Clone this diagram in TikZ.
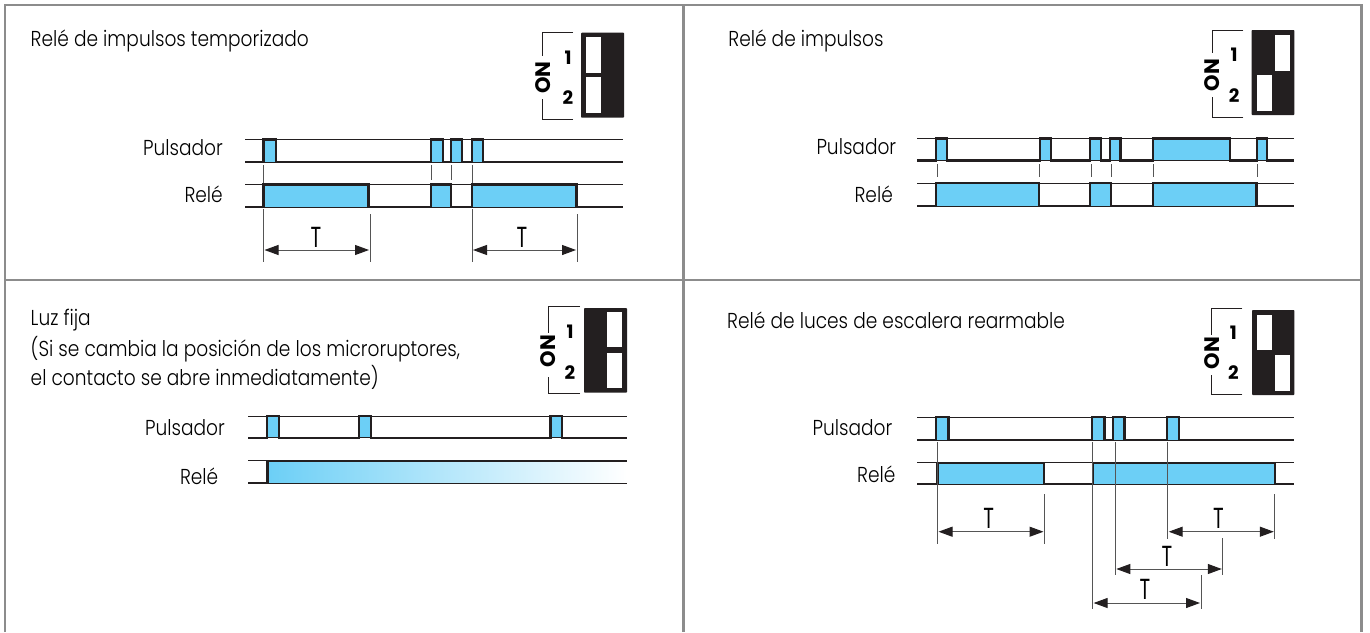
\documentclass[tikz,border=0pt]{standalone}
\usepackage{fontspec}
\setmainfont{Poppins}[UprightFont=* Light,FakeStretch=0.86]
\newfontfamily\boldf{Poppins}[UprightFont=* Bold]
\newfontfamily\bigt{Poppins}[FakeStretch=0.68]
\usetikzlibrary{arrows.meta}
\definecolor{inkc}{HTML}{231F20}
\definecolor{bluec}{HTML}{6CCFF6}
\definecolor{framec}{HTML}{8C8C8C}
\definecolor{dimc}{HTML}{555555}
\tikzset{
  x=1pt,y=-1pt,
  framel/.style={draw=framec,line width=2.8pt},
  thinl/.style={draw=inkc,line width=0.9pt},
  thickl/.style={draw=inkc,line width=2.2pt,line join=miter},
  tickl/.style={draw=dimc,line width=0.8pt},
  brk/.style={draw=inkc,line width=1pt},
  dimarrow/.style={draw=dimc,line width=1pt,{Triangle[length=14pt,width=10pt,fill=inkc,color=inkc]}-{Triangle[length=14pt,width=10pt,fill=inkc,color=inkc]}},
  ttl/.style={anchor=west,inner sep=0pt,font=\fontsize{21.6}{22}\selectfont},
  sgl/.style={anchor=east,inner sep=0pt,font=\fontsize{21.6}{22}\selectfont},
  tlab/.style={inner sep=0pt,font=\bigt\fontsize{29}{29}\selectfont},
  onl/.style={rotate=90,inner sep=0pt,font=\boldf\fontsize{21}{22}\selectfont},
  numl/.style={inner sep=0pt,font=\boldf\fontsize{18.5}{19}\selectfont},
}
% #1 x0, #2 x1, #3 ytop, #4 ybot, #5 list a/b
\newcommand{\tsignal}[5]{%
  \foreach \a/\b in {#5}{\fill[bluec] (\a,#3) rectangle (\b,#4);}
  \draw[thinl] (#1,#3) -- (#2,#3);
  \draw[thinl] (#1,#4) -- (#2,#4);
  \draw[thickl] (#1,#4) foreach \a/\b in {#5} { -- (\a,#4) -- (\a,#3) -- (\b,#3) -- (\b,#4) } -- (#2,#4);
}
% #1 prefix, #2 bracket x, #3 bracket right, #4 ytop, #5 ygap1, #6 ygap2, #7 ybot, #8 ON y
\newcommand{\dipbracket}[8]{%
  \draw[brk] (#3,#4) -- (#2,#4) -- (#2,#5);
  \draw[brk] (#3,#7) -- (#2,#7) -- (#2,#6);
  \node[onl] (#1on) at (#2,#8) {ON};
}
\begin{document}
\begin{tikzpicture}
\useasboundingbox (0,0) rectangle (1370,632);
\fill[white] (0,0) rectangle (1370,632);
% frame
\draw[framel] (5,632) -- (5,5) -- (1361.5,5) -- (1361.5,632);
\draw[framel] (5,280) -- (1361.5,280);
\draw[framel] (683.5,5) -- (683.5,632);

% ---- panel 1
\node[ttl] (t1) at (30.5,41) {Relé de impulsos temporizado};
\fill[inkc,rounded corners=0.8pt] (581,32.7) rectangle (624,117.7);
\fill[white] (586,37) rectangle (600.7,72.7);
\fill[white] (586,77.3) rectangle (600.7,113.3);
\dipbracket{a}{542.7}{573}{32.7}{56}{99}{119}{77.5}
\node[numl] (a1) at (568,57.7) {1};
\node[numl] (a2) at (568,98) {2};
\node[sgl] (ap) at (223,148) {Pulsador};
\node[sgl] (ar) at (223,194) {Relé};
\tsignal{245}{623}{139.5}{162}{263.5/276,431/443,451/462,472/483}
\tsignal{245}{623}{184.5}{207}{263.5/368.5,431/451,472/576.5}
\foreach \x in {263.5,472}{\draw[tickl] (\x,165) -- (\x,183);}
\foreach \x in {431,451}{\draw[tickl] (\x,165) -- (\x,180);}
\foreach \x in {263.5,472}{\draw[tickl] (\x,209) -- (\x,262);}
\foreach \x in {370,577}{\draw[tickl] (\x,214) -- (\x,262);}
\draw[dimarrow] (264.5,250) -- (369,250);
\draw[dimarrow] (473,250) -- (576,250);
\node[tlab] (at1) at (316,237.5) {T};
\node[tlab] (at2) at (522,237.5) {T};

% ---- panel 2
\node[ttl] (t2) at (728.2,41) {Relé de impulsos};
\fill[inkc,rounded corners=0.8pt] (1251.6,30) rectangle (1294.4,115);
\fill[white] (1274.8,35) rectangle (1289.6,71);
\fill[white] (1257.3,75) rectangle (1271.7,111);
\dipbracket{b}{1212.3}{1243.3}{30}{53}{97}{117}{75}
\node[numl] (b1) at (1234.2,55) {1};
\node[numl] (b2) at (1234.2,96) {2};
\node[sgl] (bp) at (896.4,147) {Pulsador};
\node[sgl] (br) at (893,194) {Relé};
\tsignal{917.4}{1294.4}{138.5}{160.5}{935.8/947.1,1039.7/1051.1,1090/1100.9,1110/1120.5,1152.9/1230.2,1256.9/1267.3}
\tsignal{917.4}{1294.4}{183.3}{206}{936.2/1038.9,1090/1111,1152.9/1256.4}
\foreach \x in {937,1038.9,1091.7,1111.4,1152.9,1256.9}{\draw[tickl] (\x,164) -- (\x,177);}

% ---- panel 3
\node[ttl] (t3a) at (30.5,320) {Luz fija};
\node[ttl] (t3b) at (30.5,349) {(Si se cambia la posición de los microruptores,};
\node[ttl] (t3c) at (30.5,377) {el contacto se abre inmediatamente)};
\fill[inkc,rounded corners=0.8pt] (584,308) rectangle (627,392.7);
\fill[white] (607,312) rectangle (622,347);
\fill[white] (607,352.7) rectangle (622,388);
\dipbracket{c}{548}{580}{306.7}{333}{377}{393}{351}
\node[numl] (c1) at (570,332) {1};
\node[numl] (c2) at (570,373) {2};
\node[sgl] (cp) at (225,428) {Pulsador};
\node[sgl] (cr) at (218.5,476) {Relé};
\tsignal{248}{627}{416}{437.7}{267/279,358.7/371,550.5/562}
\shade[left color=bluec,right color=white] (267.4,460.7) rectangle (627,483.3);
\draw[thinl] (248,460.7) -- (627,460.7);
\draw[thinl] (248,483.3) -- (627,483.3);
\draw[thickl] (248,483.3) -- (267.4,483.3) -- (267.4,460.7) -- (627,460.7);

% ---- panel 4
\node[ttl] (t4) at (727,320) {Relé de luces de escalera rearmable};
\fill[inkc,rounded corners=0.8pt] (1252,310) rectangle (1294.4,395);
\fill[white] (1257.3,314.7) rectangle (1271.7,350);
\fill[white] (1274.8,355) rectangle (1289.6,390.7);
\dipbracket{d}{1211.9}{1242.4}{308}{335}{375}{394.7}{353}
\node[numl] (d1) at (1233.3,332.7) {1};
\node[numl] (d2) at (1233.3,373) {2};
\node[sgl] (dp) at (892.5,428) {Pulsador};
\node[sgl] (dr) at (895.6,474) {Relé};
\tsignal{917.4}{1294.4}{417.3}{440}{936.2/948.4,1092.2/1104.4,1113.1/1124.5,1167.3/1178.7}
\tsignal{917.4}{1294.4}{462.7}{484.3}{937.5/1043.7,1092.6/1275.2}
\draw[tickl] (937.5,442) -- (937.5,544);
\draw[tickl] (1044.5,494) -- (1044.5,544);
\draw[tickl] (1167.7,442) -- (1167.7,539);
\draw[tickl] (1274.8,494) -- (1274.8,539);
\draw[tickl] (1115.3,442) -- (1115.3,575);
\draw[tickl] (1222.8,538) -- (1222.8,575);
\draw[tickl] (1092.6,442) -- (1092.6,609);
\draw[tickl] (1201,575) -- (1201,609);
\draw[dimarrow] (938.5,531.7) -- (1043.5,531.7);
\draw[dimarrow] (1168.7,531.7) -- (1273.8,531.7);
\draw[dimarrow] (1116.3,569) -- (1221.8,569);
\draw[dimarrow] (1093.6,603) -- (1200,603);
\node[tlab] (dt1) at (988.6,518) {T};
\node[tlab] (dt2) at (1218.4,518) {T};
\node[tlab] (dt3) at (1166.9,556) {T};
\node[tlab] (dt4) at (1145,589) {T};
\end{tikzpicture}
\end{document}
